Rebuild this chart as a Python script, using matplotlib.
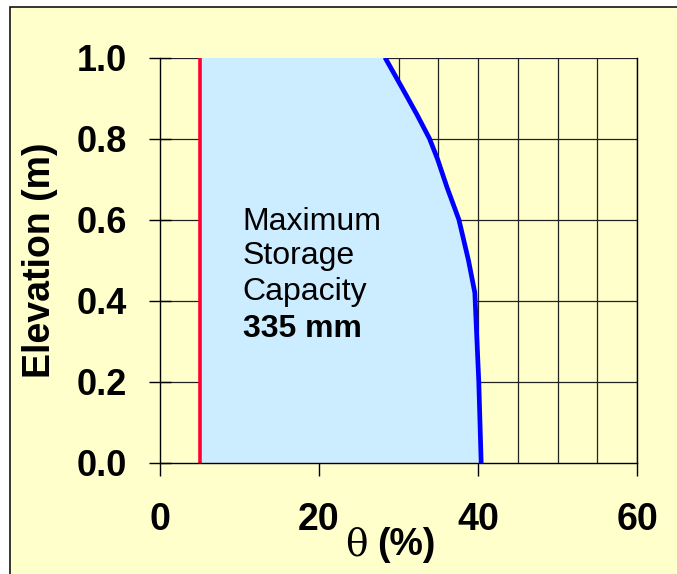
import matplotlib
matplotlib.use('Agg')
import matplotlib.pyplot as plt
from matplotlib.patches import Rectangle

# soil moisture profile at field capacity (blue) and residual moisture (red)
elev = [0.0, 0.2, 0.42, 0.5, 0.6, 0.68, 0.75, 0.8, 0.86, 0.92, 1.0]
theta = [40.4, 40.1, 39.6, 38.8, 37.6, 36.1, 34.9, 33.9, 32.3, 30.6, 28.3]
theta_res = 5.0

xticks = [0, 20, 40, 60]
yticks = [0.0, 0.2, 0.4, 0.6, 0.8, 1.0]
note_lines = ['Maximum', 'Storage', 'Capacity', '335 mm']

bg = '#FFFFCC'
fill_col = '#CCECFF'

plt.rcParams['font.family'] = ['Liberation Sans', 'DejaVu Sans']

fig = plt.figure(figsize=(6.77, 5.74), dpi=100)
fig.patch.set_facecolor('white')
# panel with black frame
frame = Rectangle((9.5 / 677, -0.1), 1.2, 1.1 - 6.6 / 574,
                  transform=fig.transFigure, facecolor=bg,
                  edgecolor='black', linewidth=1.1, zorder=-10)
fig.add_artist(frame)

ax = fig.add_axes([160 / 677, 1 - 463 / 574, 477 / 677, 405.5 / 574])
ax.set_facecolor(bg)
ax.set_xlim(0, 60)
ax.set_ylim(0, 1)

# grid (under the fill)
for gx in range(5, 61, 5):
    ax.axvline(gx, color='#222222', lw=0.9, zorder=1)
for gy in yticks[1:]:
    ax.axhline(gy, color='#222222', lw=0.9, zorder=1)

ax.fill_betweenx(elev, theta_res, theta, color=fill_col, lw=0, zorder=2)
ax.plot(theta, elev, color='#0000FF', lw=3.4, zorder=3, solid_capstyle='butt')
ax.axvline(theta_res, color='#FF0033', lw=2.6, zorder=3)

ax.spines['top'].set_visible(False)
for sp in ['left', 'right', 'bottom']:
    ax.spines[sp].set_linewidth(1.0)
    ax.spines[sp].set_zorder(4)

ax.set_xticks(xticks)
ax.set_xticklabels([str(t) for t in xticks], fontsize=27, fontweight='bold')
ax.set_yticks(yticks)
ax.set_yticklabels(['%.1f' % t for t in yticks], fontsize=26, fontweight='bold')
ax.tick_params(axis='x', direction='out', length=9.4, width=1, pad=19)
ax.tick_params(axis='y', direction='inout', length=16, width=1, pad=16)

# annotation in the storage area
ys = [0.575, 0.491, 0.402, 0.311]
for txt, yy in zip(note_lines, ys):
    ax.text(10.4, yy, txt, fontsize=23,
            fontweight='bold' if 'mm' in txt else 'normal',
            ha='left', va='baseline', zorder=5)

# axis titles
fig.text(40 / 677, 1 - 260 / 574, 'Elevation (m)', rotation=90,
         fontsize=27, fontweight='bold', ha='center', va='center')
fig.text(368 / 677, 1 - 545 / 574, 'θ', fontsize=27, ha='right', va='center',
         family=['DejaVu Serif'])
fig.text(377 / 677, 1 - 545 / 574, '(%)', fontsize=27, fontweight='bold',
         ha='left', va='center')

fig.savefig('out.png', dpi=100, facecolor=fig.get_facecolor())
